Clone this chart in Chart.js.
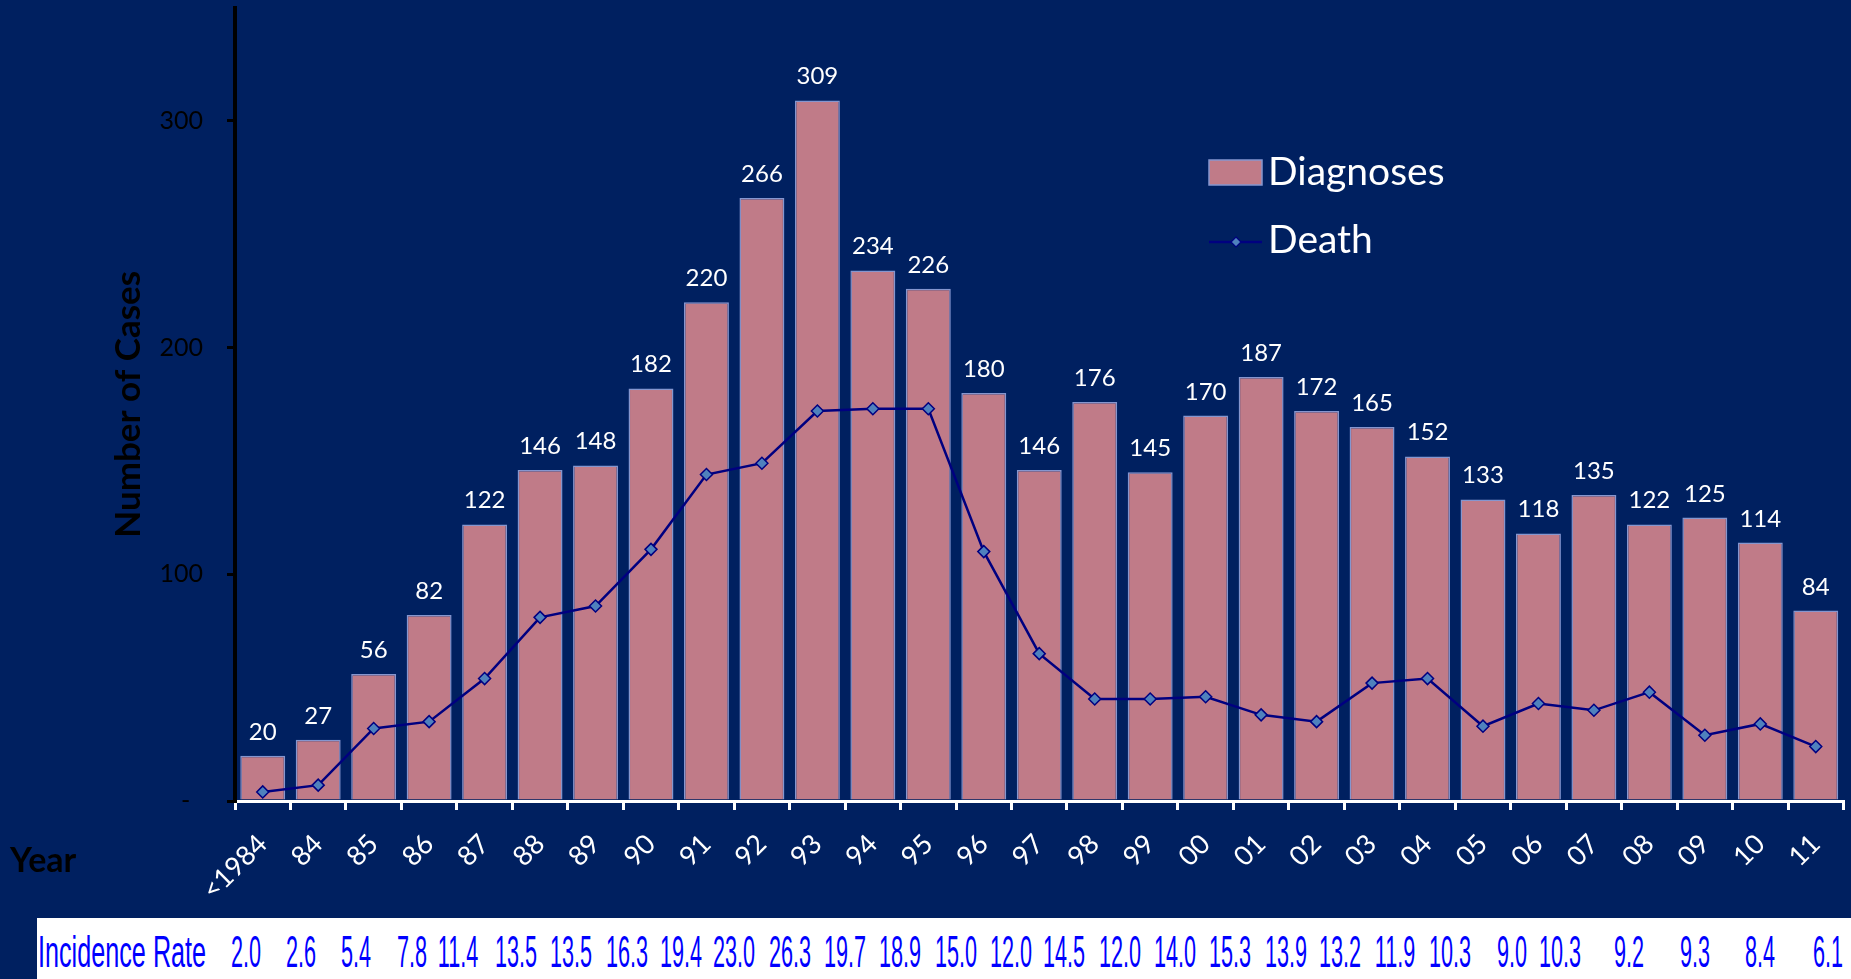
<!DOCTYPE html>
<html>
<head>
<meta charset="utf-8">
<title>Diagnoses and Deaths by Year</title>
<script src="https://cdn.jsdelivr.net/npm/chart.js@4.4.1/dist/chart.umd.min.js"></script>
<style>
  html, body { margin: 0; padding: 0; background: #002060; overflow: hidden; }
  #wrap { position: relative; width: 1851px; height: 979px; }
  #chart { position: absolute; left: 0; top: 0; }
  #year {
    position: absolute; left: 10px; top: 842px;
    font: bold 34px Lato, sans-serif; line-height: 34px; color: #000;
  }
  #rates {
    position: absolute; left: 37px; top: 918px; width: 1814px; height: 61px;
    background: #fff;
  }
  #rates span {
    position: absolute; top: 11px; white-space: pre;
    font: 45px "Liberation Sans", Arial, sans-serif; line-height: 45px; color: #0000ff;
  }
  #rates .lead { left: 1px; transform-origin: left center; transform: scaleX(0.56); }
  #rates .num { transform: translateX(-50%) scaleX(0.48); }
</style>
</head>
<body>
<div id="wrap">
  <canvas id="chart" width="1851" height="979"></canvas>
  <div id="year">Year</div>
  <div id="rates"><span class="lead">Incidence Rate</span></div>
</div>
<script>
const years = ['<1984', '84', '85', '86', '87', '88', '89', '90', '91', '92', '93', '94', '95', '96',
  '97', '98', '99', '00', '01', '02', '03', '04', '05', '06', '07', '08', '09', '10', '11'];
const diagnoses = [20, 27, 56, 82, 122, 146, 148, 182, 220, 266, 309, 234, 226, 180,
  146, 176, 145, 170, 187, 172, 165, 152, 133, 118, 135, 122, 125, 114, 84];
const deaths = [4, 7, 32, 35, 54, 81, 86, 111, 144, 149, 172, 173, 173, 110,
  65, 45, 45, 46, 38, 35, 52, 54, 33, 43, 40, 48, 29, 34, 24];
const incidenceRate = ['2.0', '2.6', '5.4', '7.8', '11.4', '13.5', '13.5', '16.3', '19.4', '23.0',
  '26.3', '19.7', '18.9', '15.0', '12.0', '14.5', '12.0', '14.0', '15.3', '13.9', '13.2', '11.9',
  '10.3', '9.0', '10.3', '9.2', '9.3', '8.4', '6.1'];
const yTicks = [0, 100, 200, 300];

const barFill = '#c07b88';
const barEdge = '#8596cf';
const lineColor = '#000080';
const markerFill = '#4f81bd';

// the rate row is a loose text line in the original, not tied to the axis
const rateCenters = [246, 301, 356, 412, 458, 516, 571, 627, 681, 734, 790, 845, 900, 956, 1011,
  1064, 1120, 1175, 1230, 1286, 1340, 1395, 1450, 1512, 1560, 1629, 1695, 1760, 1828];
const ratesBox = document.getElementById('rates');
incidenceRate.forEach((r, i) => {
  const s = document.createElement('span');
  s.className = 'num';
  s.textContent = r;
  s.style.left = (rateCenters[i] - 37) + 'px';
  ratesBox.appendChild(s);
});

const barLabels = {
  id: 'barLabels',
  afterDatasetsDraw(chart) {
    const ctx = chart.ctx;
    const meta = chart.getDatasetMeta(0);
    ctx.save();
    ctx.font = '24px Lato';
    ctx.fillStyle = '#fff';
    ctx.textAlign = 'center';
    ctx.textBaseline = 'alphabetic';
    meta.data.forEach((bar, i) => {
      ctx.fillText(String(diagnoses[i]), bar.x, bar.y - 16);
    });
    ctx.restore();
  }
};

const sideLegend = {
  id: 'sideLegend',
  afterDraw(chart) {
    const ctx = chart.ctx;
    ctx.save();
    ctx.fillStyle = barFill;
    ctx.fillRect(1209, 160, 53, 25);
    ctx.strokeStyle = barEdge;
    ctx.lineWidth = 1.5;
    ctx.strokeRect(1209, 160, 53, 25);

    ctx.strokeStyle = lineColor;
    ctx.lineWidth = 2.5;
    ctx.beginPath();
    ctx.moveTo(1209, 242);
    ctx.lineTo(1262, 242);
    ctx.stroke();
    ctx.beginPath();
    ctx.moveTo(1236, 237);
    ctx.lineTo(1241, 242);
    ctx.lineTo(1236, 247);
    ctx.lineTo(1231, 242);
    ctx.closePath();
    ctx.fillStyle = markerFill;
    ctx.fill();
    ctx.lineWidth = 1.2;
    ctx.stroke();

    ctx.font = '39px Lato';
    ctx.fillStyle = '#fff';
    ctx.textBaseline = 'alphabetic';
    ctx.fillText('Diagnoses', 1268, 185);
    ctx.fillText('Death', 1268, 253);
    ctx.restore();
  }
};

new Chart(document.getElementById('chart'), {
  type: 'bar',
  data: {
    labels: years,
    datasets: [
      {
        label: 'Diagnoses',
        data: diagnoses,
        backgroundColor: barFill,
        borderColor: barEdge,
        borderWidth: 1.5,
        categoryPercentage: 1,
        barPercentage: 0.81,
        order: 2
      },
      {
        type: 'line',
        label: 'Death',
        data: deaths,
        borderColor: lineColor,
        borderWidth: 2.5,
        tension: 0,
        pointStyle: 'rectRot',
        pointRadius: 6,
        pointBackgroundColor: markerFill,
        pointBorderColor: lineColor,
        pointBorderWidth: 1.5,
        order: 1
      }
    ]
  },
  options: {
    responsive: false,
    animation: false,
    layout: { padding: { top: 6, right: 3, left: 0, bottom: 0 } },
    plugins: {
      legend: { display: false },
      tooltip: { enabled: false }
    },
    scales: {
      x: {
        afterFit: (s) => {
          s.height = 178;
          s.paddingLeft = 0;
          s.paddingRight = 0;
        },
        border: { color: '#fff', width: 3 },
        grid: { drawOnChartArea: false, tickLength: 9, color: '#fff', lineWidth: 3, offset: true },
        ticks: {
          color: '#fff',
          font: { family: 'Lato', size: 27 },
          minRotation: 45,
          maxRotation: 45,
          autoSkip: false,
          padding: 18
        }
      },
      y: {
        min: 0,
        max: 350,
        afterBuildTicks: (s) => { s.ticks = yTicks.map((v) => ({ value: v })); },
        afterFit: (s) => {
          s.width = 235;
          s.paddingTop = 0;
          s.paddingBottom = 0;
        },
        border: { color: '#000', width: 4 },
        grid: { drawOnChartArea: false, tickLength: 8, color: '#000', lineWidth: 3 },
        ticks: {
          color: '#000',
          font: { family: 'Lato', size: 25 },
          padding: 24,
          callback: (v) => (v === 0 ? '-  ' : v)
        },
        title: {
          display: true,
          text: 'Number of Cases',
          color: '#000',
          font: { family: 'Lato', size: 35, weight: 'bold' },
          padding: { top: 108, bottom: 0 }
        }
      }
    }
  },
  plugins: [barLabels, sideLegend]
});
</script>
</body>
</html>
